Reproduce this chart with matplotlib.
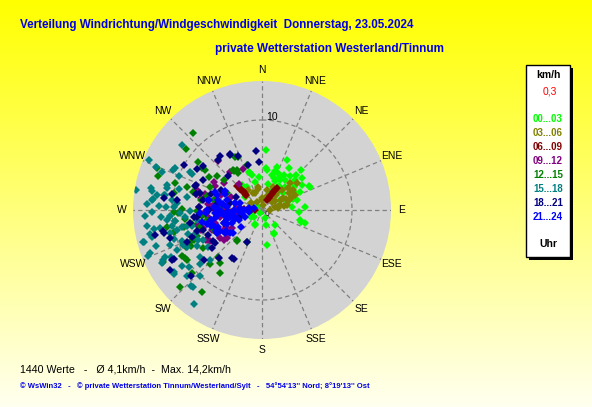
"""
Wind direction / wind speed scatter rose for one day, coloured by 3-hour block.
"""

import numpy as np
import matplotlib
matplotlib.use('Agg')
import matplotlib.pyplot as plt
from matplotlib.patches import Rectangle

plt.rcParams['font.family'] = ['Liberation Sans', 'DejaVu Sans']

# --- Config ---
W, H = 592, 407
DISK = '#D3D3D3'
SPOKE = '#808080'
TITLE_BLUE = '#0000E6'
NARROW = ['Liberation Sans Narrow', 'Liberation Sans']
RMAX = 14.33          # km/h at the disk edge
RING = 10

COMPASS = ['N', 'NNE', 'NE', 'ENE', 'E', 'ESE', 'SE', 'SSE',
           'S', 'SSW', 'SW', 'WSW', 'W', 'WNW', 'NW', 'NNW']

# --- Data: direction (deg, from N clockwise) and speed (km/h) per time block ---
DIR_00_03 = [4, 27, 6, 18, 24, 32, 31, 25, 44, 52, 63, 50, 51, 74, 86, 93, 107, 107,
             52, 33, 24, 231, 207, 153, 172, 138, 344, 354, 341, 321, 60, 40, 44, 38,
             16, 68, 75, 61, 84, 207, 252, 304, 7, 19, 33,
             20, 28, 36, 45, 55, 65, 70, 48, 58, 42, 30, 12,
             160, 163, 153, 105, 64, 342, 346, 327, 308, 237, 205]
SPD_00_03 = [6.7, 6.2, 4.7, 4.5, 4.5, 4.6, 3.9, 3.5, 6.2, 5.7, 5.8, 4.6, 3.8, 4.0, 4.8,
             4.1, 4.5, 5.0, 3.0, 3.1, 2.2, 1.2, 1.7, 2.9, 3.9, 2.2, 4.0, 3.7, 4.5, 3.6,
             4.1, 4.9, 5.4, 4.2, 4.0, 3.4, 2.9, 2.3, 3.4, 0.4, 1.2, 0.7, 4.5, 5.1, 5.5,
             3.8, 4.2, 3.3, 3.6, 4.4, 4.6, 3.7, 5.0, 5.2, 2.8, 2.6, 3.0,
             1.0, 1.7, 3.0, 4.4, 5.9, 4.3, 3.2, 3.1, 2.4, 1.4, 1.8]

DIR_03_06 = [332, 351, 358, 13, 49, 44, 74, 61, 58, 57, 76, 15, 327, 303, 90, 84, 79,
             45, 26, 68, 66, 52, 46, 326, 337, 358, 303, 350, 311,
             35, 55, 70, 40, 62, 80, 20, 30, 65, 50]
SPD_03_06 = [2.1, 2.6, 1.3, 2.3, 1.4, 2.3, 2.1, 2.7, 3.5, 4.1, 1.5, 0.6, 1.1, 1.4, 0.9,
             1.8, 2.8, 3.1, 2.9, 3.5, 4.0, 4.9, 4.3, 2.7, 2.0, 1.1, 1.4, 2.4, 2.3,
             1.9, 1.8, 3.2, 2.6, 2.4, 2.5, 1.7, 2.2, 3.0, 3.8]

DIR_06_09 = [314, 314, 314, 315, 314, 314, 315, 314, 28, 29, 30, 31, 32, 33, 34,
             274, 273, 272, 272, 271, 267, 267]
SPD_06_09 = [2.4, 2.6, 2.8, 3.0, 3.2, 3.4, 3.6, 3.8, 1.2, 1.5, 1.8, 2.1, 2.4, 2.7, 3.0,
             2.4, 2.0, 1.6, 1.2, 0.8, 3.9, 3.5]

DIR_09_12 = [318, 286, 297, 335, 319, 263, 253, 254, 252, 239, 236, 231, 242, 284, 273,
             273, 293, 282, 261, 278, 239, 241, 287, 259, 268,
             290, 300, 265, 248, 276, 244, 257, 281, 305, 270, 320, 241, 232,
             284, 274, 252, 237]
SPD_09_12 = [7.3, 6.6, 5.8, 5.0, 3.9, 6.0, 6.8, 5.4, 4.3, 3.9, 5.6, 5.0, 7.1, 7.6, 7.0,
             4.3, 3.8, 5.5, 4.7, 2.8, 6.7, 4.9, 7.6, 3.0, 6.3,
             4.8, 6.2, 5.0, 6.0, 6.0, 4.4, 7.4, 6.9, 5.2, 5.2, 5.5, 6.8, 5.4,
             7.5, 5.6, 7.1, 4.5]

DIR_12_15 = [318, 309, 292, 287, 307, 305, 307, 336, 342, 324, 281, 279, 284, 269, 259,
             255, 248, 243, 240, 236, 228, 227, 216, 224, 223, 218, 294, 282, 275, 296,
             308, 258, 248, 258, 268, 260, 287, 260, 328, 264, 247,
             288, 285, 271, 269, 263, 263, 256, 244, 246,
             214, 242, 238, 246, 237, 219,
             333, 324, 327, 302, 305, 220, 206]
SPD_12_15 = [11.5, 10.8, 12.6, 10.1, 8.9, 7.7, 6.2, 6.5, 5.3, 5.3, 10.0, 6.9, 6.3, 7.2,
             7.9, 7.1, 7.8, 8.9, 10.3, 10.0, 10.5, 12.5, 11.3, 8.3, 7.1, 7.5, 6.3, 5.5,
             4.6, 4.3, 5.4, 3.6, 5.8, 8.9, 9.3, 10.7, 8.7, 6.2, 5.2, 6.7, 9.5,
             12.1, 7.9, 8.9, 9.8, 9.7, 8.6, 10.1, 9.4, 8.3,
             8.4, 12.4, 10.1, 8.7, 7.8, 4.5,
             6.6, 5.5, 4.9, 7.0, 8.1, 4.4, 3.9]

DIR_15_18 = [294, 279, 292, 291, 296, 292, 297, 273, 276, 269, 267, 272, 272, 266, 272,
             263, 260, 257, 256, 260, 260, 258, 255, 249, 251, 243, 242, 243, 234, 235,
             232, 222, 216, 223, 229, 244, 249, 252, 257, 261, 284, 280, 283, 280, 278,
             279, 268, 265, 269, 258, 258, 251, 243, 241, 245, 249, 233, 236, 226, 276,
             264, 266, 252,
             309, 281, 275, 262, 256, 279, 285, 294, 298, 275,
             255, 248, 244, 235, 229, 223, 246, 245]
SPD_15_18 = [13.7, 14.2, 12.7, 11.9, 10.7, 10.0, 8.7, 12.8, 12.2, 12.2, 13.0, 11.5, 10.7,
             10.2, 9.8, 9.7, 10.2, 9.7, 10.5, 11.5, 12.2, 12.7, 13.6, 13.3, 12.4, 12.3,
             12.6, 11.4, 12.1, 10.9, 10.3, 11.5, 12.9, 10.1, 9.1, 9.3, 9.5, 8.6, 8.0,
             7.3, 9.5, 8.5, 10.8, 12.4, 11.8, 11.0, 9.1, 8.6, 8.0, 8.5, 9.1, 7.8, 7.3,
             8.3, 10.4, 10.9, 8.6, 7.3, 8.0, 10.1, 10.6, 11.3, 10.3,
             11.4, 12.6, 12.3, 12.9, 12.6, 10.9, 10.9, 10.8, 9.0, 9.5,
             13.7, 13.7, 12.0, 12.0, 11.1, 11.6, 9.6, 7.8]

DIR_18_21 = [300, 302, 307, 330, 354, 319, 290, 284, 280, 273, 264, 260, 251, 259, 252,
             257, 241, 237, 229, 235, 210, 205, 243, 247, 267, 282, 296, 297, 277, 277,
             249, 253, 251, 270, 278, 297, 288,
             257, 258, 253, 280, 291, 241, 227, 233, 222, 212, 322, 330, 336,
             315, 343, 356, 245, 238, 264, 285]
SPD_18_21 = [10.0, 8.5, 8.2, 7.1, 6.6, 7.4, 7.9, 7.5, 6.6, 7.0, 7.6, 8.1, 6.9, 5.8, 7.6,
             11.2, 11.4, 12.2, 8.5, 6.4, 6.3, 3.9, 5.6, 9.0, 3.9, 3.6, 5.1, 7.3, 9.5,
             11.0, 8.3, 2.5, 4.5, 5.9, 5.1, 3.3, 5.9,
             12.2, 11.2, 10.7, 10.1, 7.9, 11.2, 10.8, 7.0, 7.2, 6.3, 7.6, 7.2, 6.6,
             5.3, 5.2, 5.4, 6.6, 6.4, 7.3, 7.1]

DIR_21_24 = [259, 250, 243, 238, 234, 262, 263, 275, 270, 266, 270, 277, 281, 279, 286,
             284, 274, 270, 281, 251, 246, 247, 258, 288, 297, 267, 259, 231, 232, 248,
             287, 243, 252, 268,
             255, 265, 272, 278, 262, 248, 240, 256, 268, 274, 260, 252, 245, 283,
             280, 266, 279, 259, 256, 261, 263, 249, 255, 294, 291, 284, 267]
SPD_21_24 = [5.8, 5.5, 5.2, 4.8, 4.4, 5.1, 4.3, 3.9, 3.1, 2.6, 2.0, 1.5, 0.9, 4.7, 4.0,
             3.1, 5.4, 6.1, 6.0, 4.5, 3.6, 2.8, 3.6, 5.3, 4.6, 6.9, 6.8, 4.1, 3.0, 2.0,
             2.5, 5.6, 5.9, 4.6,
             4.0, 4.8, 5.0, 4.4, 3.4, 4.2, 4.6, 6.3, 3.8, 2.5, 5.3, 3.2, 5.6, 5.0,
             6.1, 5.2, 4.5, 3.8, 3.1, 2.3, 1.5, 5.2, 5.8, 4.5, 5.6, 3.1, 6.2]

GROUPS = [
    ('00...03', '#00FF00', DIR_00_03, SPD_00_03),
    ('03...06', '#808000', DIR_03_06, SPD_03_06),
    ('06...09', '#800000', DIR_06_09, SPD_06_09),
    ('09...12', '#800080', DIR_09_12, SPD_09_12),
    ('12...15', '#008000', DIR_12_15, SPD_12_15),
    ('15...18', '#008080', DIR_15_18, SPD_15_18),
    ('18...21', '#000080', DIR_18_21, SPD_18_21),
    ('21...24', '#0000FF', DIR_21_24, SPD_21_24),
]

N_VALUES = 1440
MEAN_SPEED = '4,1'
MAX_SPEED = '14,2'
CALM = '0,3'

fig = plt.figure(figsize=(W / 100, H / 100), dpi=100)

# --- Background: yellow gradient, pixel coordinates ---
bg = fig.add_axes([0, 0, 1, 1], zorder=0)
bg.set_xlim(0, W)
bg.set_ylim(H, 0)
bg.axis('off')
grad = np.linspace(0, 1, 256)[:, None, None]
top = np.array([1.0, 1.0, 0.0])
bottom = np.array([1.0, 1.0, 0.94])
img = top * (1 - grad) + bottom * grad
bg.imshow(img, extent=[0, W, H, 0], aspect='auto', zorder=0)

# --- Polar disk ---
cx, cy, rad = 262, 210, 129
ax = fig.add_axes([(cx - rad) / W, (H - cy - rad) / H, 2 * rad / W, 2 * rad / H],
                  projection='polar', zorder=1)
ax.set_theta_zero_location('N')
ax.set_theta_direction(-1)
ax.set_ylim(0, RMAX)
ax.set_facecolor(DISK)
ax.grid(False)
ax.set_xticks([])
ax.set_yticks([])
ax.spines['polar'].set_visible(False)

for i in range(16):
    th = np.deg2rad(i * 22.5)
    ax.plot([th, th], [0, RMAX], color=SPOKE, lw=0.9, ls=(0, (3.5, 2.5)), zorder=1)
ring_th = np.linspace(0, 2 * np.pi, 361)
ax.plot(ring_th, np.full_like(ring_th, RING), color=SPOKE, lw=0.9,
        ls=(0, (3.5, 2.5)), zorder=1)

for i, lab in enumerate(COMPASS):
    ax.text(np.deg2rad(i * 22.5), RMAX * 1.085, lab, ha='center', va='center',
            fontsize=7.5, color='black', clip_on=False)

ax.annotate(str(RING), (0, RING), xytext=(3, 2), textcoords='offset points',
            ha='left', va='center', fontsize=7.5, color='black')
ax.annotate('0', (0, 0), xytext=(2, -3), textcoords='offset points',
            ha='left', va='center', fontsize=6, color='black')

# --- Points, in time order ---
for label, color, dirs, spds in GROUPS:
    ax.plot(np.deg2rad(dirs), spds, 'D', color=color, ms=3.6, mew=0,
            linestyle='none', zorder=3)

# --- Titles ---
bg.text(20, 25, 'Verteilung Windrichtung/Windgeschwindigkeit  Donnerstag, 23.05.2024',
        color=TITLE_BLUE, fontsize=8.4, fontweight='bold', ha='left', va='center',
        family=NARROW)
bg.text(215, 49, 'private Wetterstation Westerland/Tinnum',
        color=TITLE_BLUE, fontsize=8.5, fontweight='bold', ha='left', va='center',
        family=NARROW)

bg.text(20, 369, f'{N_VALUES} Werte   -   Ø {MEAN_SPEED}km/h  -  Max. {MAX_SPEED}km/h',
        color='black', fontsize=7.7, ha='left', va='center')
bg.text(20, 386, "© WsWin32   -   © private Wetterstation Tinnum/Westerland/Sylt   -   "
        "54°54'13'' Nord; 8°19'13'' Ost",
        color=TITLE_BLUE, fontsize=5.5, fontweight='bold', ha='left', va='center',
        family=NARROW)

# --- Legend box ---
bg.add_patch(Rectangle((529, 68), 44, 192, facecolor='black', edgecolor='none', zorder=2))
bg.add_patch(Rectangle((526, 65), 44, 192, facecolor='white', edgecolor='black',
                       lw=1, zorder=3))
lx = 548
bg.text(lx, 75, 'km/h', fontsize=7.5, fontweight='bold', ha='center', va='center', zorder=4)
bg.text(lx + 2, 91, CALM, fontsize=7.5, color='red', ha='center', va='center', zorder=4)
for k, (label, color, _, _) in enumerate(GROUPS):
    bg.text(lx, 119.3 + k * 13.9, label, fontsize=7, fontweight='bold', color=color,
            ha='center', va='center', zorder=4)
bg.text(lx, 244, 'Uhr', fontsize=7.5, fontweight='bold', ha='center', va='center', zorder=4)

fig.savefig('out.png', dpi=100)
